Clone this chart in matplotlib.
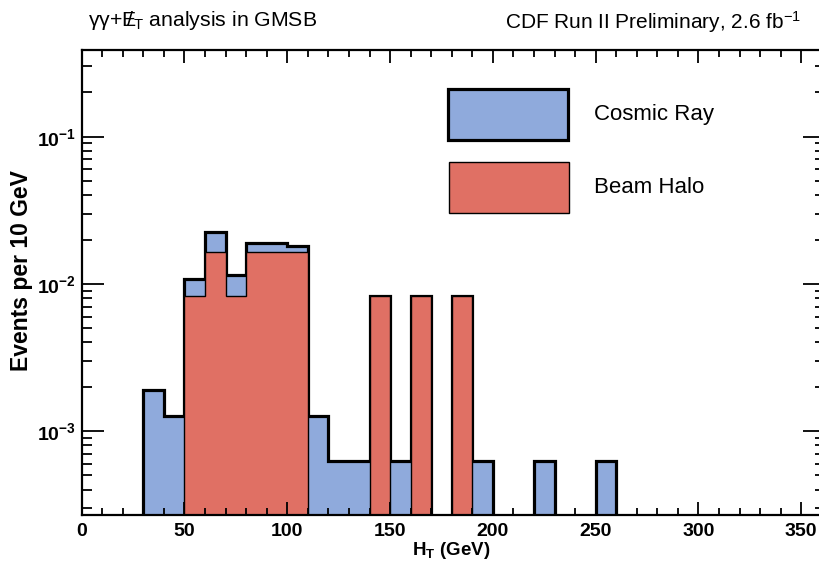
import numpy as np
import matplotlib
matplotlib.use("Agg")
import matplotlib.pyplot as plt
from matplotlib.patches import Rectangle
from matplotlib.ticker import LogLocator, MultipleLocator, FuncFormatter, NullFormatter

plt.rcParams['font.family'] = ['Liberation Sans', 'DejaVu Sans']
plt.rcParams['mathtext.fontset'] = 'custom'
plt.rcParams['mathtext.rm'] = 'Liberation Sans'
plt.rcParams['mathtext.it'] = 'Liberation Sans:italic'
plt.rcParams['mathtext.bf'] = 'Liberation Sans:bold'

# H_T bins, 10 GeV wide
bin_edges = list(range(0, 370, 10))
# events per 10 GeV (36 bins: 0-10 ... 350-360)
beam_halo = [0, 0, 0, 0, 0,
             0.0083, 0.0164, 0.0083, 0.0164, 0.0164, 0.0164,
             0, 0, 0,
             0.0083, 0, 0.0083, 0, 0.0083,
             0, 0, 0, 0, 0, 0, 0, 0, 0, 0, 0, 0, 0, 0, 0, 0, 0]
cosmic_ray = [0, 0, 0, 0.0019, 0.00127,
              0.0025, 0.0062, 0.0032, 0.0025, 0.0025, 0.0017,
              0.00127, 0.00063, 0.00063,
              0, 0.00063, 0, 0, 0,
              0.00063, 0, 0, 0.00063, 0, 0, 0.00063,
              0, 0, 0, 0, 0, 0, 0, 0, 0, 0]
labels = ["Cosmic Ray", "Beam Halo"]
colors = ["#8faadc", "#e07064"]

edges = np.array(bin_edges, dtype=float)
halo = np.array(beam_halo)
total = halo + np.array(cosmic_ray)

floor = 1e-6  # zero bins drawn below the axis range on log scale
def nz(v):
    return np.where(v > 0, v, floor)

fig = plt.figure(figsize=(8.2, 5.63), dpi=100)
# frame runs just past the right edge of the picture, as in the original
ax = fig.add_axes([81.7 / 820, 48.5 / 563, 743 / 820, 464.5 / 563])

# stacked: total (cosmic on top of halo) first, halo drawn over it
ax.stairs(nz(total), edges, baseline=floor, fill=True, color=colors[0], lw=0)
ax.stairs(nz(total), edges, baseline=floor, color='black', lw=2.3)
ax.stairs(nz(halo), edges, baseline=floor, fill=True, color=colors[1], lw=0)
ax.stairs(nz(halo), edges, baseline=floor, color='black', lw=1.0)

ax.set_yscale('log')
ax.set_xlim(0, 361.4)
ax.set_ylim(2.71e-4, 0.388)

ax.xaxis.set_major_locator(MultipleLocator(50))
ax.xaxis.set_minor_locator(MultipleLocator(10))
ax.yaxis.set_major_locator(LogLocator(base=10))
ax.yaxis.set_minor_locator(LogLocator(base=10, subs=np.arange(2, 10)))
ax.yaxis.set_minor_formatter(NullFormatter())
ax.yaxis.set_major_formatter(FuncFormatter(
    lambda v, p: r'$\mathbf{10^{%d}}$' % int(round(np.log10(v)))))

ax.tick_params(which='both', direction='in', top=True, right=True, width=1.3)
ax.tick_params(axis='x', which='major', length=9.5, pad=6)
ax.tick_params(axis='x', which='minor', length=5)
ax.tick_params(axis='y', which='major', length=16, pad=4)
ax.tick_params(axis='y', which='minor', length=7.5)
for lab in ax.get_xticklabels() + ax.get_yticklabels():
    lab.set_fontweight('bold')
    lab.set_fontsize(14)
for sp in ax.spines.values():
    sp.set_linewidth(1.6)

ax.set_xlabel(r'H$_{\mathbf{T}}$ (GeV)', fontsize=13.5, fontweight='bold')
ax.xaxis.set_label_coords(0.497, -0.078)
ax.xaxis.label.set_va('center')
ax.set_ylabel('Events per 10 GeV', fontsize=16.5, fontweight='bold', va='center')
ax.yaxis.set_label_coords(-0.081, 0.525)

# legend boxes (axes fraction)
boxes = [(0.4935, 0.806, 2.3), (0.4945, 0.6485, 1.0)]
for (x0, y0, lw), lab, col in zip(boxes, labels, colors):
    ax.add_patch(Rectangle((x0, y0), 0.1615, 0.111, transform=ax.transAxes,
                           facecolor=col, edgecolor='black', lw=lw, clip_on=False))
    ax.text(0.6895, y0 + 0.0555, lab, transform=ax.transAxes, fontsize=16, va='center', ha='left')

fig.text(88 / 820, 1 - 20 / 563, r'γγ+$\mathrm{E}\!\!\!/_{\mathrm{T}}$ analysis in GMSB',
         fontsize=15.3, ha='left', va='center')
fig.text(801 / 820, 1 - 22 / 563, r'CDF Run II Preliminary, 2.6 fb$^{-1}$',
         fontsize=15, ha='right', va='center')

fig.savefig('out.png', dpi=100)
